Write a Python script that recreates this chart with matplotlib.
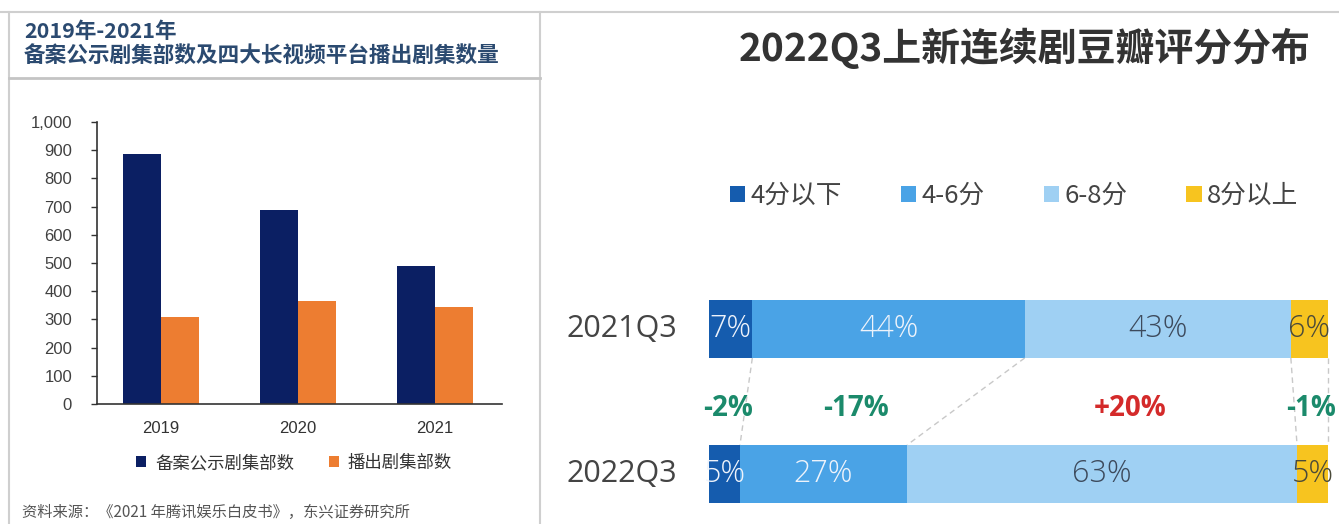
import numpy as np
import matplotlib
matplotlib.use('Agg')
import matplotlib.pyplot as plt
from matplotlib.lines import Line2D
from matplotlib.ticker import StrMethodFormatter

plt.rcParams['font.family'] = ['Noto Sans CJK SC', 'DejaVu Sans']

# ---- left chart: filed vs. aired drama series ----
years = ['2019', '2020', '2021']
filed_series = [886, 688, 490]
aired_series = [308, 366, 345]
left_series_names = ['备案公示剧集部数', '播出剧集部数']

# ---- right chart: Douban rating distribution of new dramas ----
quarters = ['2021Q3', '2022Q3']
rating_bins = ['4分以下', '4-6分', '6-8分', '8分以上']
share_2021q3 = [7, 44, 43, 6]
share_2022q3 = [5, 27, 63, 5]

W, H = 1339, 524
fig = plt.figure(figsize=(W / 100, H / 100), dpi=100)


def fx(px):
    return px / W


def fy(py):
    return 1 - py / H


def fig_line(xs, ys, color='#cfcfcf', lw=1.5):
    fig.add_artist(Line2D([fx(v) for v in xs], [fy(v) for v in ys],
                          color=color, lw=lw, transform=fig.transFigure))


# panel frames
fig_line([0, W], [12, 12])
fig_line([9, 9], [12, H])
fig_line([540, 540], [12, H])
fig_line([9, 540], [78, 78], color='#c4c4c4', lw=2)

# ---- left panel ----
title_blue = '#2b4a70'
fig.text(fx(24), fy(32), '2019年-2021年', fontsize=15.5, weight='bold',
         color=title_blue, va='center')
fig.text(fx(24), fy(56), '备案公示剧集部数及四大长视频平台播出剧集数量',
         fontsize=15.6, weight='bold', color=title_blue, va='center')

ax1 = fig.add_axes([fx(97), fy(404), fx(502) - fx(97), (404 - 122) / H])
x = np.arange(len(years))
w = 0.277
ax1.bar(x - w / 2, filed_series, w, color='#0b1f63', label=left_series_names[0])
ax1.bar(x + w / 2, aired_series, w, color='#ed7d31', label=left_series_names[1])
ax1.set_xlim(-0.467, 2.489)
ax1.set_ylim(0, 1000)
for s in ('top', 'right'):
    ax1.spines[s].set_visible(False)
for s in ('left', 'bottom'):
    ax1.spines[s].set_color('#333333')
    ax1.spines[s].set_linewidth(1.2)
ax1.set_yticks(range(0, 1001, 100))
ax1.yaxis.set_major_formatter(StrMethodFormatter('{x:,.0f}'))
ax1.tick_params(axis='y', direction='out', length=4, width=1, color='#333333',
                pad=14, labelsize=12, labelcolor='#404040')
ax1.set_xticks(x, years)
ax1.tick_params(axis='x', length=0, pad=12, labelsize=12, labelcolor='#333333')
for lbl in ax1.get_xticklabels() + ax1.get_yticklabels():
    lbl.set_fontfamily('Liberation Sans')

leg1 = ax1.legend(loc='center', bbox_to_anchor=(fx(294), fy(463)),
                  bbox_transform=fig.transFigure, ncol=2, frameon=False,
                  fontsize=12.5, handlelength=0.6, handleheight=0.6,
                  handletextpad=0.5, columnspacing=2.0)
for t in leg1.get_texts():
    t.set_color('#333333')

fig.text(fx(22), fy(512), '资料来源：《2021 年腾讯娱乐白皮书》，东兴证券研究所',
         fontsize=11, style='italic', color='#555555', va='center')

# ---- right panel ----
fig.text(fx(1025), fy(48), '2022Q3上新连续剧豆瓣评分分布', fontsize=28,
         weight='bold', color='#333333', ha='center', va='center')

ax2 = fig.add_axes([fx(709), fy(513), fx(1328) - fx(709), (513 - 290) / H])
ax2.set_xlim(0, 100)
ax2.set_ylim(1.269, -0.269)
ax2.axis('off')

bin_colors = ['#155cae', '#4aa3e6', '#9fd0f3', '#f7c41f']
text_colors = ['#eef3fb', '#eef3fb', '#3d4a5c', '#4a4a3a']
rows = [share_2021q3, share_2022q3]
latin = ['Open Sans', 'Noto Sans CJK SC']
bar_h = 0.4

cum = [np.concatenate([[0], np.cumsum(r)]) for r in rows]
for j, name in enumerate(rating_bins):
    vals = [r[j] for r in rows]
    lefts = [c[j] for c in cum]
    ax2.barh(range(len(quarters)), vals, left=lefts, height=bar_h,
             color=bin_colors[j], label=name)
    for i in range(len(quarters)):
        ax2.text(lefts[i] + vals[i] / 2, i, f'{vals[i]}%', ha='center',
                 va='center', fontsize=22, family=latin, weight='light',
                 color=text_colors[j], zorder=5)

for i, q in enumerate(quarters):
    ax2.annotate(q, xy=(0, i), xytext=(-32, 0), textcoords='offset pixels',
                 ha='right', va='center', fontsize=22, family=latin,
                 color='#444444')

# dashed connectors between matching category boundaries
for k in range(1, len(rating_bins) + 1):
    ax2.plot([cum[0][k], cum[1][k]], [bar_h / 2, 1 - bar_h / 2],
             ls=(0, (4, 3)), color='#c8c8c8', lw=1, clip_on=False, zorder=1)

# change between quarters
for j in range(len(rating_bins)):
    d = share_2022q3[j] - share_2021q3[j]
    cx = ((cum[0][j] + cum[0][j + 1]) / 2 + (cum[1][j] + cum[1][j + 1]) / 2) / 2
    ax2.text(cx, 0.545, f'{d:+d}%', ha='center', va='center', fontsize=20,
             weight='bold', family=latin,
             color='#1b8a6b' if d < 0 else '#d42a2a', zorder=5)

leg2 = fig.legend(*ax2.get_legend_handles_labels(), loc='center',
                  bbox_to_anchor=(fx(1014), fy(196)), ncol=4, frameon=False,
                  fontsize=18.5, handlelength=0.6, handleheight=0.6,
                  handletextpad=0.2, columnspacing=2.3)
for t in leg2.get_texts():
    t.set_color('#444444')

fig.savefig('out.png', dpi=100)
